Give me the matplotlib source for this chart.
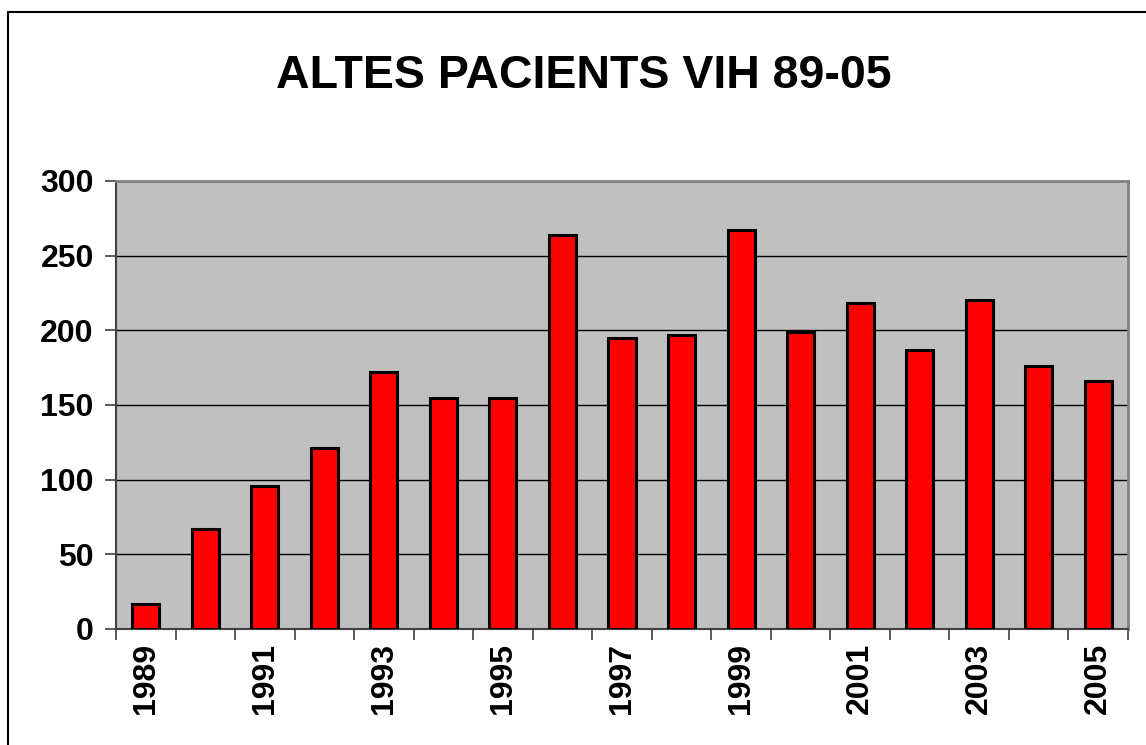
import matplotlib
matplotlib.use("Agg")
import matplotlib.pyplot as plt
import matplotlib.patches as mpatches
import numpy as np

years = list(range(1989, 2006))
values = [17, 67, 96, 121, 172, 155, 155, 264, 195, 197, 267, 199, 218, 187, 220, 176, 166]
title = "ALTES PACIENTS VIH 89-05"
yticks = [0, 50, 100, 150, 200, 250, 300]

plt.rcParams['font.family'] = ['Liberation Sans', 'DejaVu Sans']

W, H = 1146, 745
fig = plt.figure(figsize=(W / 100, H / 100), dpi=100)
fig.patch.set_facecolor('white')

left, right, top, bottom = 116, 1128, 181, 629
ax = fig.add_axes([left / W, 1 - bottom / H, (right - left) / W, (bottom - top) / H])
ax.set_facecolor('#C0C0C0')

x = np.arange(len(years))
ax.bar(x, values, width=0.455, color='#FF0000', edgecolor='black', linewidth=2.2, zorder=3)

ax.set_xlim(-0.5, len(years) - 0.5)
ax.set_ylim(0, 300)
ax.set_yticks(yticks)
ax.set_yticklabels([str(v) for v in yticks], fontsize=23, fontweight='bold')
ax.yaxis.grid(True, color='black', linewidth=1.0, zorder=1)
ax.set_axisbelow(True)

# major ticks at category centres (labels only), minor ticks at boundaries (marks)
ax.set_xticks(x[::2])
ax.set_xticklabels([str(y) for y in years[::2]], rotation=90, fontsize=23, fontweight='bold')
ax.tick_params(axis='x', which='major', length=0, pad=10)
ax.set_xticks(np.arange(-0.5, len(years) + 0.5, 1), minor=True)
ax.tick_params(axis='x', which='minor', length=8, width=1.2, color='#404040', direction='out')
ax.tick_params(axis='y', which='major', length=8, width=1.2, color='#404040', direction='out', pad=8)

for s in ['left', 'bottom']:
    ax.spines[s].set_color('#404040')
    ax.spines[s].set_linewidth(1.5)
for s in ['top', 'right']:
    ax.spines[s].set_color('#808080')
    ax.spines[s].set_linewidth(2)

fig.text(584 / W, 1 - 76 / H, title, ha='center', va='center', fontsize=33.5, fontweight='bold')

frame = mpatches.Rectangle((8 / W, -0.1), 1.2, (H - 12) / H + 0.1, transform=fig.transFigure,
                           fill=False, edgecolor='black', linewidth=1.5, clip_on=False)
fig.patches.append(frame)

fig.savefig('out.png', dpi=100)
